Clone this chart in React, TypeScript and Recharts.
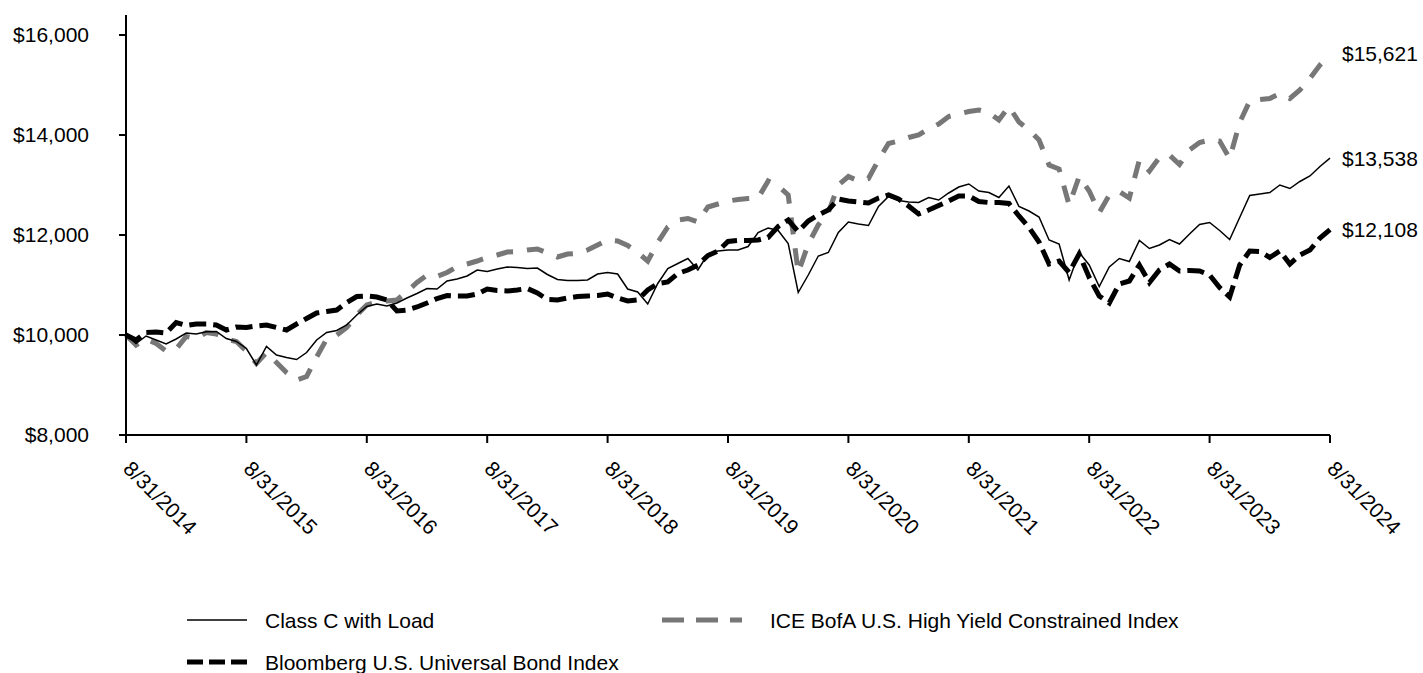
import { LineChart, Line, XAxis, YAxis } from "recharts";

// values (monthly, 8/31/2014 -> 8/31/2024)
const classC = [
  10000, 9830, 9980, 9900, 9820, 9920, 10040, 10020, 10065, 10070, 9930, 9870,
  9730, 9400, 9770, 9600, 9550, 9510, 9650, 9900, 10050, 10090, 10200, 10400,
  10570, 10620, 10580, 10640, 10740, 10830, 10930, 10920, 11080, 11120, 11180, 11300,
  11270, 11320, 11360, 11350, 11330, 11340, 11210, 11110, 11090, 11090, 11100, 11220,
  11250, 11220, 10920, 10860, 10620, 11030, 11330, 11430, 11530, 11300, 11620, 11680,
  11700, 11700, 11770, 12050, 12140, 12090, 11830, 10850, 11200, 11580, 11650, 12050,
  12260, 12220, 12190, 12570, 12770, 12690, 12660, 12650, 12750, 12700, 12840, 12960,
  13020, 12880, 12850, 12750, 12980, 12570, 12480, 12360, 11900, 11820, 11100, 11650,
  11400, 10970, 11360, 11530, 11470, 11890, 11730, 11800, 11910, 11820, 12020, 12210,
  12250, 12090, 11910, 12350, 12790, 12820, 12850, 13000, 12930, 13070, 13180, 13370,
  13538,
];

const iceHighYield = [
  10000, 9800, 9920, 9830, 9680, 9720, 9970, 9930, 10050, 10020, 9920, 9870,
  9680, 9430, 9650, 9450, 9250, 9100, 9170, 9560, 9920, 10000, 10150, 10400,
  10600, 10660, 10680, 10700, 10870, 11050, 11200, 11170, 11250, 11370, 11420, 11480,
  11550, 11600, 11660, 11670, 11700, 11720, 11640, 11560, 11620, 11630, 11700, 11800,
  11900, 11880, 11790, 11650, 11480, 11850, 12160, 12300, 12330, 12260, 12560, 12620,
  12680, 12710, 12730, 12740, 13080, 12980, 12800, 11250, 11820, 12200, 12450, 13000,
  13170, 13080, 13130, 13500, 13830, 13880, 13950, 14000, 14120, 14220, 14370, 14420,
  14470, 14500, 14450, 14300, 14570, 14260, 14100, 13900, 13400, 13320, 12600, 13170,
  12880, 12450, 12800, 12870, 12740, 13500, 13280, 13550, 13600, 13410, 13700, 13850,
  13900, 13880, 13530, 14250, 14680, 14710, 14730, 14830, 14730, 14900, 15130, 15400,
  15621,
];

const bloombergUniversal = [
  10000, 9900, 10050, 10060, 10040, 10250, 10190, 10220, 10220, 10200, 10100, 10160,
  10150, 10180, 10200, 10150, 10100, 10220, 10330, 10440, 10470, 10500, 10650, 10770,
  10780, 10760, 10700, 10480, 10500, 10560, 10640, 10730, 10790, 10780, 10780, 10820,
  10920, 10890, 10880, 10900, 10930, 10840, 10710, 10700, 10740, 10770, 10780, 10790,
  10820, 10740, 10680, 10700, 10900, 11030, 11060, 11230, 11300, 11400, 11590, 11680,
  11870, 11890, 11890, 11900, 11950, 12170, 12300, 12070, 12280, 12400, 12500, 12720,
  12680, 12660, 12640, 12740, 12800, 12720, 12580, 12420, 12500, 12590, 12680, 12780,
  12780, 12670, 12650, 12650, 12630, 12380, 12150, 11860, 11420, 11480, 11250, 11620,
  11150, 10780, 10640, 11020, 11080, 11400, 11050, 11300, 11420, 11280, 11290, 11280,
  11200, 10950, 10760, 11400, 11680, 11670, 11550, 11680, 11420, 11600, 11700, 11940,
  12108,
];

const tickLabels = [
  "8/31/2014", "8/31/2015", "8/31/2016", "8/31/2017", "8/31/2018", "8/31/2019",
  "8/31/2020", "8/31/2021", "8/31/2022", "8/31/2023", "8/31/2024",
];

const yTicks = [8000, 10000, 12000, 14000, 16000];

const FONT = "'Liberation Sans', Arial, sans-serif";
const GRAY = "#777777";

const data = classC.map((v, i) => ({
  m: i,
  classC: v,
  ice: iceHighYield[i],
  bloom: bloombergUniversal[i],
}));

const money = (v: number) => "$" + v.toLocaleString("en-US");

const XTick = (props: any) => {
  const { x, y, payload } = props;
  const label = tickLabels[Math.round(payload.value / 12)];
  const ox = x - 4;
  const oy = y + 25;
  return (
    <text
      x={ox}
      y={oy}
      transform={`rotate(45 ${ox} ${oy})`}
      textAnchor="start"
      fontSize={21}
      fontFamily={FONT}
      fill="#000"
    >
      {label}
    </text>
  );
};

// value printed right of the last point of each line
const endLabel = (last: number) => (props: any) => {
  const { x, y, index, value } = props;
  if (index !== last) return null;
  return (
    <text
      x={x + 12}
      y={y}
      dominantBaseline="central"
      fontSize={21}
      fontFamily={FONT}
      fill="#000"
    >
      {money(value)}
    </text>
  );
};

export default function App() {
  const last = classC.length - 1;
  return (
    <div style={{ position: "relative", width: 1423, height: 673, overflow: "hidden" }}>
      {/* the original runs right to the window edges, so drop the body margin */}
      <style>{`html, body { margin: 0; overflow: hidden; }`}</style>
      <LineChart
        width={1423}
        height={568}
        data={data}
        margin={{ top: 15, right: 93, left: 8, bottom: 0 }}
      >
        <XAxis
          dataKey="m"
          type="number"
          domain={[0, last]}
          ticks={tickLabels.map((_, i) => i * 12)}
          interval={0}
          height={133}
          tickSize={8}
          axisLine={{ stroke: "#000", strokeWidth: 2 }}
          tickLine={{ stroke: "#000", strokeWidth: 2 }}
          tick={<XTick />}
        />
        <YAxis
          domain={[8000, 16400]}
          ticks={yTicks}
          interval={0}
          width={118}
          tickSize={7}
          tickMargin={30}
          axisLine={{ stroke: "#000", strokeWidth: 2 }}
          tickLine={{ stroke: "#000", strokeWidth: 2 }}
          tickFormatter={money}
          tick={{ fill: "#000", fontSize: 21, fontFamily: FONT }}
        />
        <Line
          dataKey="ice"
          stroke={GRAY}
          strokeWidth={5}
          strokeDasharray="17 14"
          dot={false}
          isAnimationActive={false}
          label={endLabel(last)}
        />
        <Line
          dataKey="bloom"
          stroke="#000"
          strokeWidth={5}
          strokeDasharray="17 7"
          dot={false}
          isAnimationActive={false}
          label={endLabel(last)}
        />
        <Line
          dataKey="classC"
          stroke="#000"
          strokeWidth={1.5}
          dot={false}
          isAnimationActive={false}
          label={endLabel(last)}
        />
      </LineChart>

      {/* legend */}
      <svg
        width={1423}
        height={105}
        style={{ position: "absolute", left: 0, top: 568 }}
      >
        <g fontFamily={FONT} fontSize={21} fill="#000">
          <line x1={187} x2={247} y1={52} y2={52} stroke="#000" strokeWidth={1.5} />
          <text x={265} y={52} dominantBaseline="central">Class C with Load</text>

          <line x1={662} x2={742} y1={52} y2={52} stroke={GRAY} strokeWidth={5} strokeDasharray="22 12" />
          <text x={770} y={52} dominantBaseline="central">ICE BofA U.S. High Yield Constrained Index</text>

          <line x1={187} x2={247} y1={94} y2={94} stroke="#000" strokeWidth={5} strokeDasharray="16 6" />
          <text x={265} y={94} dominantBaseline="central">Bloomberg U.S. Universal Bond Index</text>
        </g>
      </svg>
    </div>
  );
}
